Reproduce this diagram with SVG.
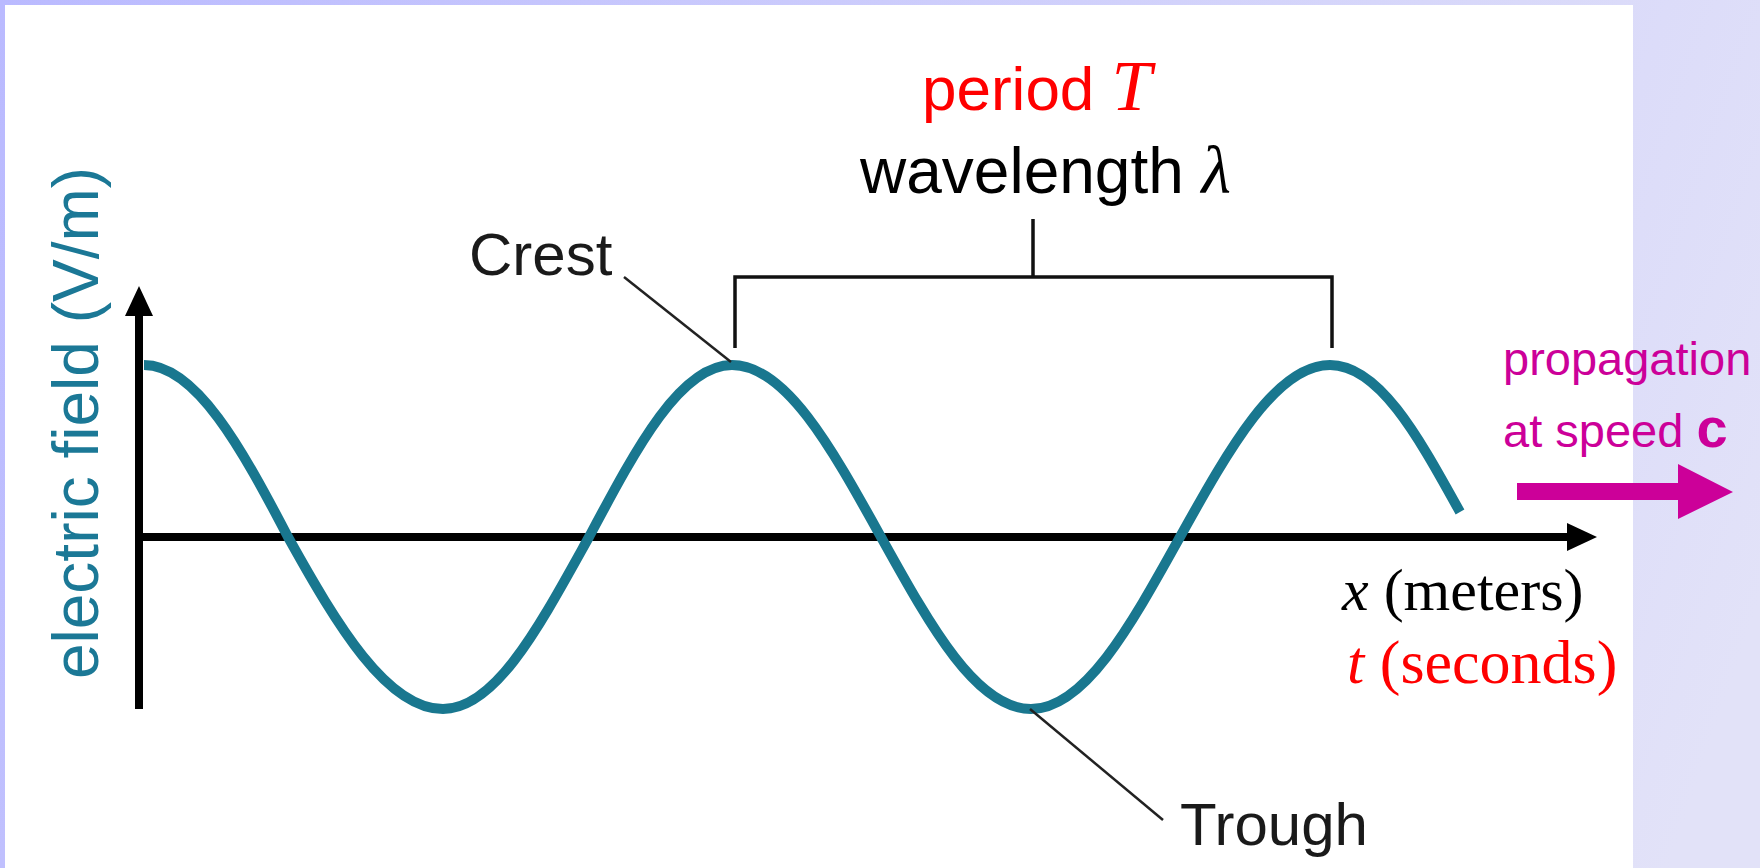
<svg xmlns="http://www.w3.org/2000/svg" width="1760" height="868" viewBox="0 0 1760 868">
  <defs>
    <linearGradient id="bg" gradientUnits="userSpaceOnUse" x1="0" y1="0" x2="1760" y2="600">
      <stop offset="0" stop-color="#babaff"/>
      <stop offset="1" stop-color="#e2e2f8"/>
    </linearGradient>
    <style>
      .sans { font-family: "Liberation Sans", Arial, sans-serif; }
      .serif { font-family: "Liberation Serif", "Times New Roman", serif; }
      .axis { stroke: #000; stroke-width: 8; fill: none; }
      .bracket { stroke: #111; stroke-width: 3.5; fill: none; }
      .leader { stroke: #222; stroke-width: 2.5; fill: none; }
      .wave { stroke: #19778f; stroke-width: 10; fill: none; }
    </style>
  </defs>

  <rect x="0" y="0" width="1760" height="868" fill="url(#bg)"/>
  <rect x="5" y="5" width="1628" height="863" fill="#fff"/>

  <g id="axes">
    <line class="axis" x1="139" y1="709" x2="139" y2="312"/>
    <polygon points="139,286 125,316 153,316" fill="#000"/>
    <line class="axis" x1="135" y1="537" x2="1572" y2="537"/>
    <polygon points="1597,537 1567,523 1567,551" fill="#000"/>
  </g>

  <g id="wave">
    <path class="wave" d="M144,365 C196,365 242,448.9 288,537 C337,625.1 387,709 443,709 C496,709 540,625.1 589,537 C636,448.9 680,365 732,365 C786,365 832,448.9 881,537 C930,625.1 976,709 1031,709 C1085,709 1131,625.1 1180,537 C1229,448.9 1276,365 1330,365 C1380,365 1420,440 1460,512"/>
  </g>

  <g id="connectors">
    <path class="bracket" d="M735,348 V277 H1332 V348 M1033,219 V277"/>
    <line class="leader" x1="624" y1="277" x2="731" y2="362"/>
    <line class="leader" x1="1030" y1="709" x2="1163" y2="820"/>
  </g>

  <g id="label-period">
    <text class="sans" x="922" y="110" font-size="62" fill="#ff0000">period <tspan class="serif" font-style="italic" font-size="72">T</tspan></text>
  </g>
  <g id="label-wavelength">
    <text class="sans" x="860" y="193" font-size="64" fill="#000">wavelength <tspan class="serif" font-style="italic" font-size="68">λ</tspan></text>
  </g>
  <g id="label-crest">
    <text class="sans" x="469" y="275" font-size="60" fill="#1a1a1a">Crest</text>
  </g>
  <g id="label-trough">
    <text class="sans" x="1180" y="845" font-size="60" fill="#1a1a1a">Trough</text>
  </g>
  <g id="label-yaxis">
    <text class="sans" transform="translate(98,423) rotate(-90)" text-anchor="middle" font-size="64" fill="#1b7896">electric field (V/m)</text>
  </g>
  <g id="label-xaxis">
    <text class="serif" x="1342" y="610" font-size="60" fill="#000"><tspan font-style="italic">x</tspan> (meters)</text>
    <text class="serif" x="1347" y="683" font-size="62" fill="#ff0000"><tspan font-style="italic">t</tspan> (seconds)</text>
  </g>
  <g id="propagation">
    <text class="sans" x="1503" y="375" font-size="47" fill="#cc0099">propagation</text>
    <text class="sans" x="1503" y="447" font-size="47" fill="#cc0099">at speed <tspan font-weight="bold" font-size="56">c</tspan></text>
    <polygon points="1517,483 1678,483 1678,464 1733,492 1678,519 1678,500 1517,500" fill="#cc0099"/>
  </g>
</svg>
